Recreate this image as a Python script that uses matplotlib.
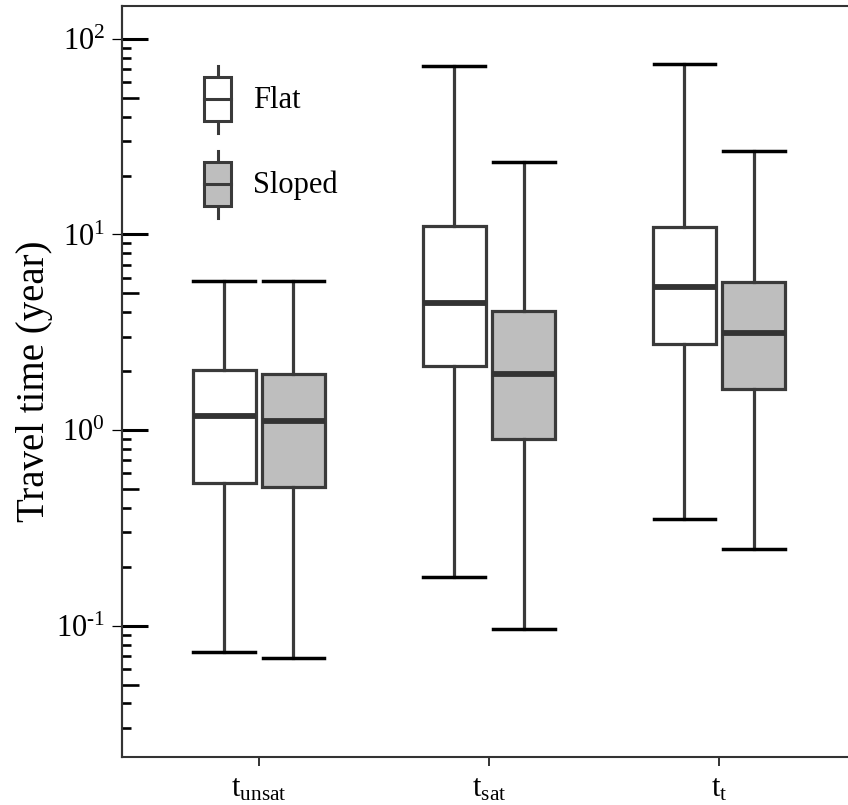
import matplotlib
matplotlib.use('Agg')
import matplotlib.pyplot as plt
from matplotlib.patches import Patch, Rectangle
from matplotlib.lines import Line2D
from matplotlib.legend_handler import HandlerBase
from matplotlib.ticker import LogLocator, NullFormatter, FuncFormatter
import numpy as np

plt.rcParams['font.family'] = ['Liberation Serif', 'DejaVu Serif']
plt.rcParams['mathtext.fontset'] = 'custom'
plt.rcParams['mathtext.rm'] = 'Liberation Serif'
plt.rcParams['mathtext.it'] = 'Liberation Serif:italic'
plt.rcParams['axes.unicode_minus'] = False

# travel times (year)
categories = [r'$\mathregular{t_{unsat}}$', r'$\mathregular{t_{sat}}$', r'$\mathregular{t_{t}}$']
flat_whislo = [0.0731, 0.178, 0.351]
flat_q1 = [0.536, 2.13, 2.75]
flat_med = [1.18, 4.46, 5.36]
flat_q3 = [2.03, 11.07, 10.9]
flat_whishi = [5.80, 72.7, 74.2]
sloped_whislo = [0.0681, 0.0962, 0.2465]
sloped_q1 = [0.511, 0.900, 1.63]
sloped_med = [1.11, 1.93, 3.14]
sloped_q3 = [1.93, 4.06, 5.73]
sloped_whishi = [5.78, 23.5, 26.7]
series_names = ['Flat', 'Sloped']
series_colors = ['white', '#bebebe']

EDGE = '#3a3a3a'


def make_stats(lo, q1, med, q3, hi):
    return [dict(whislo=a, q1=b, med=c, q3=d, whishi=e, fliers=[])
            for a, b, c, d, e in zip(lo, q1, med, q3, hi)]


def pow_label(v, pos):
    e = int(round(np.log10(v)))
    if e < 0:
        return r'$\mathregular{10^{\text{-}%d}}$' % (-e)
    return r'$\mathregular{10^{%d}}$' % e


fig = plt.figure(figsize=(8.48, 8.05), dpi=100)
ax = fig.add_axes([0.1435, 0.060, 0.8565, 0.933])

width = 0.274
offset = 0.1505
xpos = list(range(len(categories)))
all_stats = [make_stats(flat_whislo, flat_q1, flat_med, flat_q3, flat_whishi),
             make_stats(sloped_whislo, sloped_q1, sloped_med, sloped_q3, sloped_whishi)]

for k, (stats, color) in enumerate(zip(all_stats, series_colors)):
    pos = [x + (k * 2 - 1) * offset for x in xpos]
    ax.bxp(stats, positions=pos, widths=width, capwidths=width * 0.98,
           patch_artist=True, showfliers=False,
           boxprops=dict(facecolor=color, edgecolor=EDGE, linewidth=2.3),
           medianprops=dict(color='#333333', linewidth=4.2, solid_capstyle='butt'),
           whiskerprops=dict(color=EDGE, linewidth=2.3),
           capprops=dict(color='black', linewidth=2.5))

ax.set_yscale('log')
ax.set_ylim(0.02137, 148)
ax.set_xlim(-0.596, 2.56)
ax.set_xticks(xpos)
ax.set_xticklabels(categories, fontsize=22)
ax.set_ylabel('Travel time (year)', fontsize=28, labelpad=2)

for s in ['left', 'bottom', 'top']:
    ax.spines[s].set_linewidth(1.5)
    ax.spines[s].set_color('#333333')
ax.spines['right'].set_visible(False)

ax.yaxis.set_major_locator(LogLocator(base=10, numticks=20))
ax.yaxis.set_major_formatter(FuncFormatter(pow_label))
ax.yaxis.set_minor_locator(LogLocator(base=10, subs=(2, 3, 4, 6, 7, 8, 9), numticks=20))
ax.yaxis.set_minor_formatter(NullFormatter())
ax.tick_params(axis='y', which='major', direction='in', length=18.5, width=2.2,
               labelsize=22, pad=12, color='black')
ax.tick_params(axis='y', which='minor', direction='in', length=6.5, width=1.9, color='black')
ax.tick_params(axis='x', which='major', direction='out', length=6.5, width=1.4,
               pad=6, color='#333333')

# thin outward major ticks and medium ticks at 5 x 10^n
sec = ax.secondary_yaxis('left')
sec.yaxis.set_major_locator(LogLocator(base=10, numticks=20))
sec.yaxis.set_minor_locator(LogLocator(base=10, subs=(5,), numticks=20))
sec.yaxis.set_major_formatter(NullFormatter())
sec.yaxis.set_minor_formatter(NullFormatter())
sec.tick_params(which='major', direction='out', length=7, width=0.9, color='black')
sec.tick_params(which='minor', direction='in', length=12.5, width=1.9, color='black')
sec.spines['left'].set_linewidth(1.5)
sec.spines['left'].set_color('#333333')


class BoxHandler(HandlerBase):
    def create_artists(self, legend, orig_handle, xdescent, ydescent,
                       width, height, fontsize, trans):
        x0, y0 = -xdescent, -ydescent
        cx = x0 + width / 2
        bw = width
        b0 = y0 + height * 0.17
        b1 = y0 + height * 0.83
        rect = Rectangle((cx - bw / 2, b0), bw, b1 - b0,
                         facecolor=orig_handle.get_facecolor(), edgecolor=EDGE,
                         linewidth=2.2, transform=trans)
        med = Line2D([cx - bw / 2, cx + bw / 2], [y0 + height / 2] * 2,
                     color=EDGE, linewidth=2.2, transform=trans)
        w1 = Line2D([cx, cx], [y0, b0], color=EDGE, linewidth=2.2, transform=trans)
        w2 = Line2D([cx, cx], [b1, y0 + height], color=EDGE, linewidth=2.2, transform=trans)
        return [w1, w2, rect, med]


handles = [Patch(facecolor=c, edgecolor=EDGE) for c in series_colors]
ax.legend(handles, series_names, handler_map={Patch: BoxHandler()},
          loc='upper left', bbox_to_anchor=(0.113, 0.92), frameon=False,
          fontsize=22, handlelength=0.9, handleheight=3.0,
          handletextpad=0.7, labelspacing=0.59, borderpad=0, borderaxespad=0)

fig.savefig('out.png', dpi=100)
